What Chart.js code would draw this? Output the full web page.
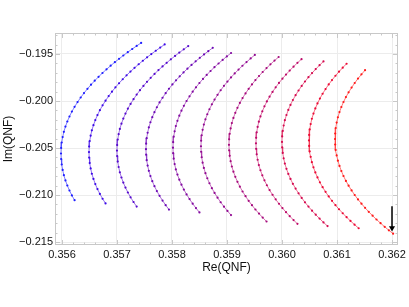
<!DOCTYPE html>
<html><head><meta charset="utf-8">
<script src="https://cdn.jsdelivr.net/npm/chart.js@4/dist/chart.umd.min.js"></script>
<style>html,body{margin:0;padding:0;background:#fff;}canvas{display:block;}</style>
</head><body>
<canvas id="c" width="409" height="307"></canvas>
<script>
const xTicks = [0.356,0.357,0.358,0.359,0.360,0.361,0.362];
const yTicks = [-0.215,-0.210,-0.205,-0.200,-0.195];

const re1 = [0.357439,0.357358,0.357277,0.357196,0.357115,0.357038,0.356961,0.356885,0.356810,0.356736,0.356665,0.356595,0.356528,0.356463,0.356400,0.356340,0.356283,0.356229,0.356180,0.356136,0.356097,0.356063,0.356034,0.356012,0.355995,0.355985,0.355982,0.355985,0.355995,0.356012,0.356034,0.356063,0.356097,0.356136,0.356180,0.356229];
const im1 = [-0.193819,-0.194138,-0.194468,-0.194808,-0.195159,-0.195511,-0.195872,-0.196245,-0.196628,-0.197021,-0.197425,-0.197840,-0.198266,-0.198702,-0.199159,-0.199628,-0.200117,-0.200617,-0.201128,-0.201649,-0.202181,-0.202723,-0.203276,-0.203840,-0.204415,-0.205000,-0.205585,-0.206170,-0.206755,-0.207330,-0.207894,-0.208447,-0.208989,-0.209521,-0.210042,-0.210553];
const re2 = [0.357867,0.357786,0.357705,0.357624,0.357547,0.357470,0.357394,0.357319,0.357245,0.357174,0.357104,0.357037,0.356972,0.356909,0.356849,0.356792,0.356738,0.356689,0.356645,0.356606,0.356572,0.356543,0.356521,0.356504,0.356494,0.356491,0.356494,0.356504,0.356521,0.356543,0.356572,0.356606,0.356645,0.356689,0.356738,0.356792];
const im2 = [-0.193984,-0.194314,-0.194654,-0.195005,-0.195357,-0.195718,-0.196091,-0.196474,-0.196867,-0.197271,-0.197686,-0.198112,-0.198548,-0.199005,-0.199474,-0.199963,-0.200463,-0.200974,-0.201495,-0.202027,-0.202569,-0.203122,-0.203686,-0.204261,-0.204846,-0.205431,-0.206016,-0.206601,-0.207176,-0.207740,-0.208293,-0.208835,-0.209367,-0.209888,-0.210399,-0.210899];
const re3 = [0.358295,0.358214,0.358133,0.358056,0.357979,0.357903,0.357828,0.357754,0.357683,0.357613,0.357546,0.357481,0.357418,0.357358,0.357301,0.357247,0.357198,0.357154,0.357115,0.357081,0.357052,0.357030,0.357013,0.357003,0.357000,0.357003,0.357013,0.357030,0.357052,0.357081,0.357115,0.357154,0.357198,0.357247,0.357301,0.357358];
const im3 = [-0.194160,-0.194500,-0.194851,-0.195203,-0.195564,-0.195937,-0.196320,-0.196713,-0.197117,-0.197532,-0.197958,-0.198394,-0.198851,-0.199320,-0.199809,-0.200309,-0.200820,-0.201341,-0.201873,-0.202415,-0.202968,-0.203532,-0.204107,-0.204692,-0.205277,-0.205862,-0.206447,-0.207022,-0.207586,-0.208139,-0.208681,-0.209213,-0.209734,-0.210245,-0.210745,-0.211234];
const re4 = [0.358741,0.358660,0.358583,0.358506,0.358430,0.358355,0.358281,0.358210,0.358140,0.358073,0.358008,0.357945,0.357885,0.357828,0.357774,0.357725,0.357681,0.357642,0.357608,0.357579,0.357557,0.357540,0.357530,0.357527,0.357530,0.357540,0.357557,0.357579,0.357608,0.357642,0.357681,0.357725,0.357774,0.357828,0.357885,0.357945];
const im4 = [-0.194345,-0.194696,-0.195048,-0.195409,-0.195782,-0.196165,-0.196558,-0.196962,-0.197377,-0.197803,-0.198239,-0.198696,-0.199165,-0.199654,-0.200154,-0.200665,-0.201186,-0.201718,-0.202260,-0.202813,-0.203377,-0.203952,-0.204537,-0.205122,-0.205707,-0.206292,-0.206867,-0.207431,-0.207984,-0.208526,-0.209058,-0.209579,-0.210090,-0.210590,-0.211079,-0.211548];
const re5 = [0.359074,0.358997,0.358921,0.358846,0.358772,0.358701,0.358631,0.358564,0.358499,0.358436,0.358376,0.358319,0.358265,0.358216,0.358172,0.358133,0.358099,0.358070,0.358048,0.358031,0.358021,0.358018,0.358021,0.358031,0.358048,0.358070,0.358099,0.358133,0.358172,0.358216,0.358265,0.358319,0.358376,0.358436,0.358499];
const im5 = [-0.194894,-0.195255,-0.195628,-0.196011,-0.196404,-0.196808,-0.197223,-0.197649,-0.198085,-0.198542,-0.199011,-0.199500,-0.200000,-0.200511,-0.201032,-0.201564,-0.202106,-0.202659,-0.203223,-0.203798,-0.204383,-0.204968,-0.205553,-0.206138,-0.206713,-0.207277,-0.207830,-0.208372,-0.208904,-0.209425,-0.209936,-0.210436,-0.210925,-0.211394,-0.211851];
const re6 = [0.359506,0.359430,0.359355,0.359281,0.359210,0.359140,0.359073,0.359008,0.358945,0.358885,0.358828,0.358774,0.358725,0.358681,0.358642,0.358608,0.358579,0.358557,0.358540,0.358530,0.358527,0.358530,0.358540,0.358557,0.358579,0.358608,0.358642,0.358681,0.358725,0.358774,0.358828,0.358885,0.358945,0.359008,0.359073];
const im6 = [-0.195101,-0.195474,-0.195857,-0.196250,-0.196654,-0.197069,-0.197495,-0.197931,-0.198388,-0.198857,-0.199346,-0.199846,-0.200357,-0.200878,-0.201410,-0.201952,-0.202505,-0.203069,-0.203644,-0.204229,-0.204814,-0.205399,-0.205984,-0.206559,-0.207123,-0.207676,-0.208218,-0.208750,-0.209271,-0.209782,-0.210282,-0.210771,-0.211240,-0.211697,-0.212133];
const re7 = [0.359939,0.359864,0.359790,0.359719,0.359649,0.359582,0.359517,0.359454,0.359394,0.359337,0.359283,0.359234,0.359190,0.359151,0.359117,0.359088,0.359066,0.359049,0.359039,0.359036,0.359039,0.359049,0.359066,0.359088,0.359117,0.359151,0.359190,0.359234,0.359283,0.359337,0.359394,0.359454,0.359517,0.359582,0.359649,0.359719];
const im7 = [-0.195320,-0.195703,-0.196096,-0.196500,-0.196915,-0.197341,-0.197777,-0.198234,-0.198703,-0.199192,-0.199692,-0.200203,-0.200724,-0.201256,-0.201798,-0.202351,-0.202915,-0.203490,-0.204075,-0.204660,-0.205245,-0.205830,-0.206405,-0.206969,-0.207522,-0.208064,-0.208596,-0.209117,-0.209628,-0.210128,-0.210617,-0.211086,-0.211543,-0.211979,-0.212405,-0.212820];
const re8 = [0.360355,0.360281,0.360210,0.360140,0.360073,0.360008,0.359945,0.359885,0.359828,0.359774,0.359725,0.359681,0.359642,0.359608,0.359579,0.359557,0.359540,0.359530,0.359527,0.359530,0.359540,0.359557,0.359579,0.359608,0.359642,0.359681,0.359725,0.359774,0.359828,0.359885,0.359945,0.360008,0.360073,0.360140,0.360210,0.360281];
const im8 = [-0.195548,-0.195941,-0.196345,-0.196760,-0.197186,-0.197622,-0.198079,-0.198548,-0.199037,-0.199537,-0.200048,-0.200569,-0.201101,-0.201643,-0.202196,-0.202760,-0.203335,-0.203920,-0.204505,-0.205090,-0.205675,-0.206250,-0.206814,-0.207367,-0.207909,-0.208441,-0.208962,-0.209473,-0.209973,-0.210462,-0.210931,-0.211388,-0.211824,-0.212250,-0.212665,-0.213069];
const re9 = [0.360754,0.360683,0.360613,0.360546,0.360481,0.360418,0.360358,0.360301,0.360247,0.360198,0.360154,0.360115,0.360081,0.360052,0.360030,0.360013,0.360003,0.360000,0.360003,0.360013,0.360030,0.360052,0.360081,0.360115,0.360154,0.360198,0.360247,0.360301,0.360358,0.360418,0.360481,0.360546,0.360613,0.360683,0.360754,0.360828];
const im9 = [-0.195787,-0.196191,-0.196606,-0.197032,-0.197468,-0.197925,-0.198394,-0.198883,-0.199383,-0.199894,-0.200415,-0.200947,-0.201489,-0.202042,-0.202606,-0.203181,-0.203766,-0.204351,-0.204936,-0.205521,-0.206096,-0.206660,-0.207213,-0.207755,-0.208287,-0.208808,-0.209319,-0.209819,-0.210308,-0.210777,-0.211234,-0.211670,-0.212096,-0.212511,-0.212915,-0.213308];
const re10 = [0.361174,0.361104,0.361037,0.360972,0.360909,0.360849,0.360792,0.360738,0.360689,0.360645,0.360606,0.360572,0.360543,0.360521,0.360504,0.360494,0.360491,0.360494,0.360504,0.360521,0.360543,0.360572,0.360606,0.360645,0.360689,0.360738,0.360792,0.360849,0.360909,0.360972,0.361037,0.361104,0.361174,0.361245,0.361319,0.361394];
const im10 = [-0.196037,-0.196452,-0.196878,-0.197314,-0.197771,-0.198240,-0.198729,-0.199229,-0.199740,-0.200261,-0.200793,-0.201335,-0.201888,-0.202452,-0.203027,-0.203612,-0.204197,-0.204782,-0.205367,-0.205942,-0.206506,-0.207059,-0.207601,-0.208133,-0.208654,-0.209165,-0.209665,-0.210154,-0.210623,-0.211080,-0.211516,-0.211942,-0.212357,-0.212761,-0.213154,-0.213537];
const re11 = [0.361510,0.361445,0.361382,0.361322,0.361265,0.361211,0.361162,0.361118,0.361079,0.361045,0.361016,0.360994,0.360977,0.360967,0.360964,0.360967,0.360977,0.360994,0.361016,0.361045,0.361079,0.361118,0.361162,0.361211,0.361265,0.361322,0.361382,0.361445,0.361510,0.361577,0.361647,0.361718,0.361792,0.361867,0.361943,0.362020];
const im11 = [-0.196724,-0.197160,-0.197617,-0.198086,-0.198575,-0.199075,-0.199586,-0.200107,-0.200639,-0.201181,-0.201734,-0.202298,-0.202873,-0.203458,-0.204043,-0.204628,-0.205213,-0.205788,-0.206352,-0.206905,-0.207447,-0.207979,-0.208500,-0.209011,-0.209511,-0.210000,-0.210469,-0.210926,-0.211362,-0.211788,-0.212203,-0.212607,-0.213000,-0.213383,-0.213756,-0.214117];

const arrowRe = [0.362, 0.362];
const arrowIm = [-0.2112, -0.2135];

const curves = [[re1,im1],[re2,im2],[re3,im3],[re4,im4],[re5,im5],[re6,im6],[re7,im7],[re8,im8],[re9,im9],[re10,im10],[re11,im11]];
const colors = ['rgb(30,30,255)','rgb(60,10,230)','rgb(85,10,205)','rgb(108,10,182)','rgb(130,10,160)','rgb(145,10,145)','rgb(165,10,125)','rgb(188,10,105)','rgb(212,10,80)','rgb(235,10,55)','rgb(255,25,25)'];
const lineColors = ['rgba(70,70,255,0.7)','rgba(95,50,235,0.7)','rgba(115,50,215,0.7)','rgba(135,50,195,0.7)','rgba(155,50,180,0.7)','rgba(170,50,165,0.7)','rgba(190,50,145,0.7)','rgba(210,50,125,0.7)','rgba(228,50,100,0.7)','rgba(242,50,75,0.7)','rgba(255,60,60,0.7)'];

const datasets = curves.map((c, i) => ({
  data: c[0].map((x, j) => ({x: x, y: c[1][j]})),
  showLine: true,
  borderColor: lineColors[i],
  borderWidth: 1,
  pointRadius: 1.1,
  pointBackgroundColor: colors[i],
  pointBorderWidth: 0,
  pointBorderColor: colors[i]
}));
datasets.push({
  data: arrowRe.map((x, j) => ({x: x, y: arrowIm[j]})),
  showLine: true,
  borderColor: '#000',
  borderWidth: 1.5,
  pointStyle: 'triangle',
  rotation: 180,
  pointRadius: [0, 3.5],
  pointBackgroundColor: '#000',
  pointBorderColor: '#000',
  pointBorderWidth: 0
});

const framePlugin = {
  id: 'frame',
  beforeDatasetsDraw(chart) {
    const {ctx, chartArea: a, scales: {x, y}} = chart;
    ctx.save();
    ctx.strokeStyle = '#c8c8c8';
    ctx.lineWidth = 1;
    ctx.strokeRect(a.left + 0.5, a.top + 0.5, a.right - a.left - 1, a.bottom - a.top - 1);
    ctx.beginPath();
    for (let k = 0; k <= 35; k++) {
      const v = 0.3558 + k * 0.0002;
      const px = Math.round(x.getPixelForValue(v)) + 0.5;
      if (px <= a.left + 1 || px >= a.right - 1) continue;
      const len = (k % 5 === 1) ? 5 : 2.5;
      ctx.moveTo(px, a.bottom); ctx.lineTo(px, a.bottom - len);
      ctx.moveTo(px, a.top); ctx.lineTo(px, a.top + len);
    }
    for (let k = 0; k <= 25; k++) {
      const v = -0.216 + k * 0.001;
      const py = Math.round(y.getPixelForValue(v)) + 0.5;
      if (py <= a.top + 1 || py >= a.bottom - 1) continue;
      const len = (k % 5 === 1) ? 5 : 2.5;
      ctx.moveTo(a.left, py); ctx.lineTo(a.left + len, py);
      ctx.moveTo(a.right, py); ctx.lineTo(a.right - len, py);
    }
    ctx.stroke();
    ctx.restore();
  }
};

Chart.defaults.font.family = "'Liberation Sans', Arial, sans-serif";
new Chart(document.getElementById('c'), {
  type: 'scatter',
  data: {datasets: datasets},
  plugins: [framePlugin],
  options: {
    responsive: false,
    animation: false,
    layout: {padding: {left: 0, right: 11, top: 33, bottom: 32}},
    plugins: {legend: {display: false}, tooltip: {enabled: false}},
    scales: {
      x: {
        type: 'linear', min: 0.355873, max: 0.362109,
        afterBuildTicks: s => { s.ticks = xTicks.map(v => ({value: v})); },
        afterFit: s => { s.height = 30; },
        ticks: {callback: v => Number(v).toFixed(3), font: {size: 11}, color: '#111', padding: 3, maxRotation: 0, autoSkip: false},
        grid: {color: '#ececec', drawTicks: false},
        border: {display: false},
        title: {display: true, text: 'Re(QNF)', font: {size: 12}, color: '#111', padding: 0}
      },
      y: {
        type: 'linear', min: -0.215319, max: -0.192766,
        afterBuildTicks: s => { s.ticks = yTicks.map(v => ({value: v})); },
        afterFit: s => { s.width = 55; },
        ticks: {callback: v => '\u2212' + Math.abs(v).toFixed(3), font: {size: 11}, color: '#111', padding: 2, autoSkip: false},
        grid: {color: '#ececec', drawTicks: false},
        border: {display: false},
        title: {display: true, text: 'Im(QNF)', font: {size: 12}, color: '#111', padding: {top: 1, bottom: 0}}
      }
    }
  }
});
</script>
</body></html>
